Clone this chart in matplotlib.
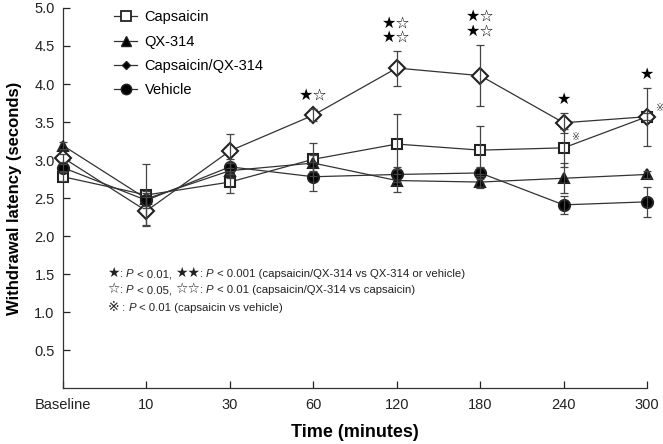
import matplotlib
matplotlib.use('Agg')
import matplotlib.pyplot as plt
from matplotlib.lines import Line2D
import numpy as np

plt.rcParams['font.family'] = ['Liberation Sans', 'DejaVu Sans']

# Дані
time_labels = ['Baseline', '10', '30', '60', '120', '180', '240', '300']

capsaicin = [2.78, 2.54, 2.71, 3.01, 3.21, 3.13, 3.16, 3.57]
capsaicin_err = [0.06, 0.41, 0.15, 0.22, 0.39, 0.32, 0.25, 0.05]

qx314 = [3.19, 2.49, 2.86, 2.96, 2.73, 2.71, 2.76, 2.81]
qx314_err = [0.05, 0.1, 0.1, 0.1, 0.15, 0.08, 0.2, 0.05]

combo = [3.03, 2.33, 3.12, 3.59, 4.21, 4.11, 3.49, 3.57]
combo_err = [0.05, 0.18, 0.22, 0.08, 0.23, 0.4, 0.13, 0.38]

vehicle = [2.9, 2.47, 2.91, 2.78, 2.81, 2.83, 2.41, 2.45]
vehicle_err = [0.05, 0.1, 0.1, 0.19, 0.1, 0.08, 0.12, 0.2]

# Позначки значущості: (індекс точки, рядок, y)
sig_marks = [(3, '★☆', 3.84), (4, '★☆', 4.79), (4, '★☆', 4.6),
             (5, '★☆', 4.88), (5, '★☆', 4.68), (6, '★', 3.8), (7, '★', 4.13)]
ref_marks = [(6, 3.3), (7, 3.68)]

x = np.arange(len(time_labels))

fig = plt.figure(figsize=(6.63, 4.44), dpi=100)
ax = fig.add_axes([0.095, 0.126, 0.881, 0.856])

series = [
    (capsaicin, capsaicin_err, 's', 'white', 7.5, 'Capsaicin'),
    (qx314, qx314_err, '^', 'black', 7.5, 'QX-314'),
    (combo, combo_err, 'D', 'white', 8, 'Capsaicin/QX-314'),
    (vehicle, vehicle_err, 'o', 'black', 8, 'Vehicle'),
]

for vals, err, m, fc, ms, name in series:
    ax.plot(x, vals, color='#333333', lw=0.9, marker=m, ms=ms, mfc=fc,
            mec='#222222', mew=1.5, clip_on=False, zorder=3)
    ax.errorbar(x, vals, yerr=err, fmt='none', ecolor='#444444', elinewidth=0.9,
                capsize=3, capthick=0.9, clip_on=False, zorder=4)

for i, s, yy in sig_marks:
    ax.text(x[i], yy, s, ha='center', va='center', fontsize=11.5,
            family=['DejaVu Sans'])
for i, yy in ref_marks:
    ax.text(x[i] + 0.14, yy, '※', ha='center', va='center', fontsize=7,
            family=['DejaVu Sans'], color='#333333')

# Легенда
handles = [
    Line2D([], [], color='#333333', lw=0.9, marker='s', ms=7, mfc='white', mec='#222222', mew=1.3),
    Line2D([], [], color='#333333', lw=0.9, marker='^', ms=7, mfc='black', mec='#222222'),
    Line2D([], [], color='#333333', lw=0.9, marker='D', ms=4, mfc='black', mec='#222222'),
    Line2D([], [], color='#333333', lw=0.9, marker='o', ms=7.5, mfc='black', mec='#222222'),
]
ax.legend(handles, [s[5] for s in series], loc='upper left', bbox_to_anchor=(0.065, 1.028),
          frameon=False, fontsize=10.5, handlelength=1.6, handletextpad=0.5,
          labelspacing=0.7)

ax.set_xlim(0, 7)
ax.set_ylim(0, 5)

renderer = fig.canvas.get_renderer()


# Примітки: текст зі змішаних шрифтів, частини ставимо одна за одною на одній базовій лінії
def rainbow(x0, y0, pieces, fs=8.2):
    xc = x0
    for s, style in pieces:
        kw = dict(fontsize=fs, va='baseline', color='#222222')
        if style == 'sym':
            kw['family'] = ['DejaVu Sans']
            kw['fontsize'] = fs + 1.8
        elif style == 'it':
            kw['fontstyle'] = 'italic'
        t = ax.text(xc, y0, s, **kw)
        bb = t.get_window_extent(renderer)
        xc = ax.transData.inverted().transform((bb.x1, 0))[0]


note1 = [('★', 'sym'), (': ', ''), ('P', 'it'), (' < 0.01, ', ''), ('★★', 'sym'),
         (': ', ''), ('P', 'it'), (' < 0.001 (capsaicin/QX-314 vs QX-314 or vehicle)', '')]
note2 = [('☆', 'sym'), (': ', ''), ('P', 'it'), (' < 0.05, ', ''), ('☆☆', 'sym'),
         (': ', ''), ('P', 'it'), (' < 0.01 (capsaicin/QX-314 vs capsaicin)', '')]
note3 = [('※', 'sym'), (' : ', ''), ('P', 'it'), (' < 0.01 (capsaicin vs vehicle)', '')]
rainbow(0.53, 1.46, note1)
rainbow(0.53, 1.25, note2)
rainbow(0.53, 1.02, note3)

ax.set_xticks(x)
ax.set_xticklabels(time_labels)
ax.set_yticks(np.arange(0.5, 5.01, 0.5))
ax.set_yticklabels([f'{v:.1f}' for v in np.arange(0.5, 5.01, 0.5)])
ax.tick_params(direction='in', length=5, width=0.9, labelsize=10.5, colors='#222222', pad=6)
ax.tick_params(axis='x', pad=7)
for sp in ['top', 'right']:
    ax.spines[sp].set_visible(False)
for sp in ['left', 'bottom']:
    ax.spines[sp].set_linewidth(0.9)
    ax.spines[sp].set_color('#333333')

ax.set_xlabel('Time (minutes)', fontsize=13, fontweight='bold', labelpad=9)
ax.set_ylabel('Withdrawal latency (seconds)', fontsize=12, fontweight='bold', labelpad=9)

fig.savefig('out.png', dpi=100)
